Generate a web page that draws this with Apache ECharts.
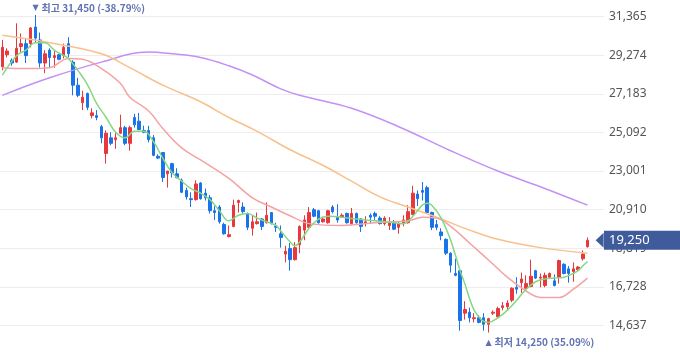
<!DOCTYPE html>
<html><head><meta charset="utf-8">
<script src="https://cdn.jsdelivr.net/npm/echarts@6/dist/echarts.min.js"></script>
<style>html,body{margin:0;padding:0;background:#fff;overflow:hidden;width:680px;height:358px}#c{position:absolute;left:0;top:-22px;width:680px;height:386px}</style>
</head><body><div id="c"></div>
<script>
// [open, close, low, high]
const ohlc = [
[28650,29700,28450,30100],[29300,29500,29150,29650],[29000,28850,28700,29100],[28900,29650,28850,31000],
[29750,29900,29450,30450],[29900,29250,28850,30200],[29900,30750,29700,30800],[30800,30200,29950,31450],
[30100,28850,28600,30500],[28850,29350,28300,29550],[29550,29150,28600,29650],[29150,29250,28600,29550],
[29300,29050,29000,29350],[29250,29700,29100,29900],[29900,29350,29150,30250],[28900,27650,27100,29000],
[27650,27100,27000,28050],[26700,27000,26300,27350],[27200,26450,26300,27250],[26000,26150,25850,26400],
[26000,25900,25750,26300],[25400,24800,24500,25500],[23950,25050,23400,25200],[24800,24500,24400,25100],
[24700,24800,24200,25050],[25050,25350,25000,26050],[25350,24500,24400,25450],[24500,25350,24100,25450],
[25900,25500,25350,26100],[25700,25250,25200,26150],[25200,25100,25050,25450],[25200,24700,24550,25450],
[24800,23850,23800,24950],[23800,23700,23650,23900],[24000,22650,22400,24000],[22850,23000,22100,23000],
[23400,22900,22650,23450],[22850,22650,22600,23150],[22500,21850,21800,22600],[21950,21600,21450,22100],
[21500,21450,21050,21850],[21450,22300,21400,22500],[22350,21500,21450,22400],[21800,21550,21400,22050],
[21550,20850,20700,21700],[20850,20750,20350,21100],[21050,20250,20150,21150],[20100,19600,19550,20200],
[19450,19550,19400,20050],[20000,21150,19950,21450],[21300,21400,20750,21450],[21050,20800,20700,21300],
[20700,19950,19800,20750],[19900,20250,19500,20600],[20150,20250,20100,20750],[20400,20000,19800,20450],
[20200,20600,20150,21300],[20750,20200,20100,20750],[20000,19950,19700,20200],[19600,19400,18850,20050],
[18500,18650,18050,18950],[18800,18200,17600,19100],[18200,18850,18150,19150],[19000,20000,18550,20050],
[19800,20350,19250,20600],[19950,20750,19850,21050],[20900,20550,20500,21000],[20850,20200,20150,20900],
[20250,20400,20200,20450],[20200,20850,20150,20900],[21050,20800,20700,21150],[20500,20350,20200,21200],
[20500,20600,20450,20700],[20700,20200,20150,20750],[20150,20700,20100,21000],[20700,20200,20150,20750],
[20400,20000,19700,20450],[20150,20250,20000,20550],[20600,20500,20150,20700],[20700,20550,20350,20800],
[20450,20150,20100,20550],[20150,20450,20050,20550],[20050,20200,19800,20500],[20200,19850,19800,20350],
[19950,20150,19600,20250],[20150,20350,20000,20600],[20200,20800,20150,21150],[20650,21800,20600,22200],
[21750,21500,21100,21950],[21950,21850,21400,22400],[22100,20750,20700,22200],[20750,19950,19800,20800],
[20100,19950,19800,20350],[19700,19500,19250,19900],[19300,18550,18450,19350],[18550,17900,17500,18600],
[17450,17350,17300,18250],[17600,14900,14350,17600],[15300,15500,14950,15950],[15350,15050,14800,15600],
[15000,15050,14800,15300],[15050,14800,14750,15200],[15050,14700,14350,15300],[14700,15000,14250,15050],
[15300,15350,15200,15450],[15100,15550,15050,15650],[15600,15700,15450,15900],[15650,15850,15450,16000],
[16000,16650,15900,16700],[16700,16600,16350,17250],[16950,17150,16400,17500],[16650,16900,16600,17350],
[16750,17300,16700,18200],[17600,17200,17150,17650],[17200,17250,16700,17450],[16800,17350,16700,17500],
[17250,17450,17200,17500],[17050,16800,16750,17400],[17250,18150,16900,18200],[17950,17450,17400,18000],
[17700,17450,16950,17850],[17550,17700,17000,18050],[17650,17800,17600,17850],[18250,18500,18150,18700],
[18900,19250,18850,19400]
];
// moving averages: [candle index, value]
const ma5 = [[0,28200],[3,29250],[5,29550],[7,29950],[9,29950],[11,29550],[13,29250],[14,29100],[16,28450],[18,27700],[20,26650],[22,25900],[24,25100],[26,24800],[28,25150],[30,25150],[32,24600],[34,23700],[36,22900],[38,22450],[40,22050],[42,21800],[44,21450],[46,20850],[48,20300],[50,20600],[52,20700],[54,20450],[56,20250],[58,20050],[59,19750],[61,19150],[62,18950],[63,19150],[65,19900],[67,20400],[69,20550],[72,20500],[75,20400],[79,20300],[83,20200],[85,20150],[87,20550],[89,21150],[90,21250],[91,21150],[93,20450],[95,19250],[96,18450],[97,17600],[98,16900],[99,16100],[100,15450],[101,15100],[102,14850],[103,14800],[105,15050],[107,15450],[109,16000],[111,16600],[113,17000],[115,17150],[117,17200],[119,17250],[121,17450],[122,17600],[123,17850],[124,18100]];
const ma20 = [[0,28600],[5,28550],[10,28600],[14,29100],[17,29050],[21,28550],[25,27750],[27,27000],[31,26250],[34,25300],[38,24250],[42,23600],[48,22600],[53,21550],[57,21050],[62,20450],[65,20150],[72,20050],[79,20200],[86,20300],[89,20500],[92,20450],[95,20000],[99,19100],[104,17950],[107,17250],[111,16500],[114,16150],[118,16150],[121,16600],[124,17200]];
const ma60 = [[0,30350],[10,29950],[21,29350],[27,28600],[34,27650],[42,26750],[48,25900],[54,25150],[61,24150],[68,23300],[74,22450],[80,21600],[86,21050],[92,20500],[99,19800],[105,19300],[114,18850],[124,18550]];
const ma120 = [[0,27100],[10,28050],[21,28900],[31,29450],[36,29350],[42,29150],[48,28700],[53,28200],[59,27450],[63,27100],[74,26400],[84,25400],[95,24100],[105,23000],[114,22150],[124,21150]];
const emptySlots = 3;
const categories = Array.from({length: ohlc.length + emptySlots}, (_, i) => 'D' + (i + 1));
const yMin = 12546, yMax = 33456, yStep = 2091;

const fmt = v => v.toLocaleString('en-US');
const last = ohlc[ohlc.length - 1][1];
let hiIdx = 0, loIdx = 0;
ohlc.forEach((d, i) => { if (d[3] > ohlc[hiIdx][3]) hiIdx = i; if (d[2] < ohlc[loIdx][2]) loIdx = i; });
const hi = ohlc[hiIdx][3], lo = ohlc[loIdx][2];
const hiPct = ((last - hi) / hi * 100).toFixed(2);
const loPct = ((last - lo) / lo * 100).toFixed(2);

const UP = '#e8383d', DOWN = '#1a73e8', TAG = '#3f5b9b', ANN = '#5f72b3';
const annRich = {
  a: {fontSize: 8, color: ANN, fontFamily: 'DejaVu Sans', padding: [0, 3, 0, 0]},
  b: {fontSize: 10, color: ANN, fontWeight: 'bold', fontFamily: 'Noto Sans CJK KR'}
};
const annLabel = {show: true, position: 'inside', align: 'left', verticalAlign: 'middle', rich: annRich};
const hidden = {color: 'rgba(0,0,0,0)'};

function lineSeries(data, color) {
  return {type: 'line', data, smooth: 0.4, showSymbol: false, silent: true,
    lineStyle: {color, width: 1.5}, z: 3};
}

const chart = echarts.init(document.getElementById('c'));
chart.setOption({
  animation: false,
  grid: {left: 0, right: 76, top: 0, bottom: 0},
  xAxis: {type: 'category', data: categories, boundaryGap: true, show: false},
  yAxis: {type: 'value', position: 'right', min: yMin, max: yMax, interval: yStep,
    axisLine: {show: false}, axisTick: {show: false},
    splitLine: {lineStyle: {color: '#ededed', width: 1}},
    axisLabel: {margin: 5, color: '#555', fontSize: 12, fontFamily: 'Noto Sans', formatter: v => fmt(v), showMinLabel: false, showMaxLabel: false}},
  series: [
    {type: 'candlestick', data: ohlc, barWidth: 3, z: 2,
      itemStyle: {color: UP, color0: DOWN, borderColor: UP, borderColor0: DOWN, borderWidth: 1},
      markLine: {silent: true, symbol: ['none', 'none'], data: [{yAxis: last}],
        lineStyle: {color: 'rgba(0,0,0,0)', width: 0},
        label: {show: true, position: 'end', distance: 0, formatter: fmt(last), color: '#fff', backgroundColor: TAG,
          padding: [3, 40, 2, 5], fontSize: 13, lineHeight: 14, fontFamily: 'Noto Sans'}},
      markPoint: {silent: true, data: [
        {coord: [categories.length - 1, last], symbol: 'path://M0,5L8,0L8,10Z', symbolSize: [8, 15], symbolOffset: [-2, 0], itemStyle: {color: TAG}, label: {show: false}},
        {coord: [hiIdx, hi], symbol: 'circle', symbolSize: 1, itemStyle: hidden,
          label: Object.assign({}, annLabel, {offset: [-3, -7], formatter: '{a|▼}{b|최고 ' + fmt(hi) + ' (' + hiPct + '%)}'})},
        {coord: [loIdx, lo], symbol: 'circle', symbolSize: 1, itemStyle: hidden,
          label: Object.assign({}, annLabel, {offset: [-3, 10], formatter: '{a|▲}{b|최저 ' + fmt(lo) + ' (' + loPct + '%)}'})}
      ]}},
    lineSeries(ma120, '#c291f5'),
    lineSeries(ma60, '#f8c08c'),
    lineSeries(ma20, '#f4a2a5'),
    lineSeries(ma5, '#84d884')
  ]
});
</script></body></html>
